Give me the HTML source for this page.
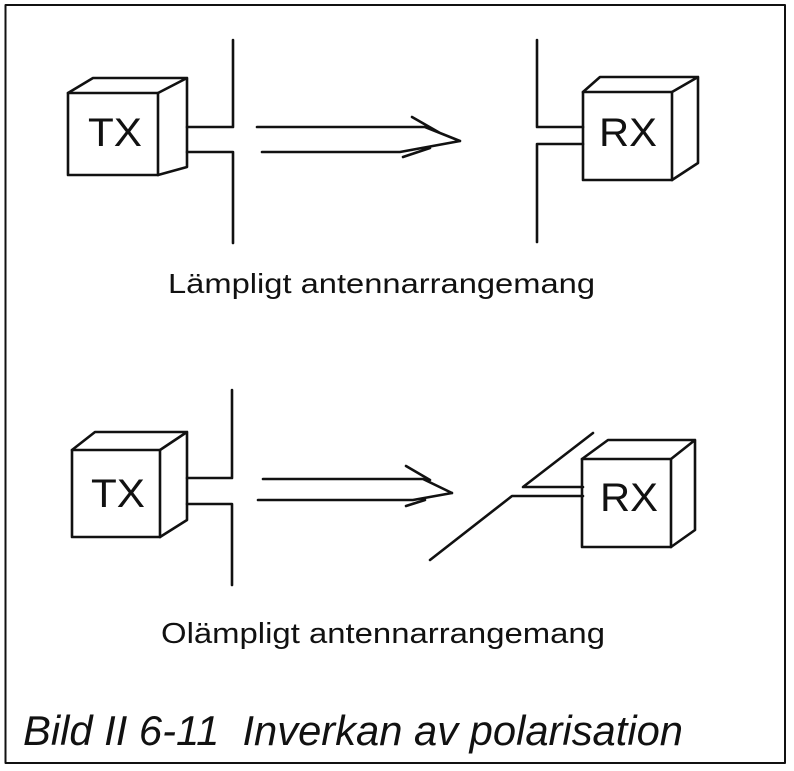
<!DOCTYPE html>
<html><head><meta charset="utf-8"><style>
html,body{margin:0;padding:0;background:#fff;}
svg{display:block;}
text{font-family:"Liberation Sans",sans-serif;fill:#111;white-space:pre;}
</style></head><body>
<svg width="794" height="771" viewBox="0 0 794 771" xmlns="http://www.w3.org/2000/svg">
<g fill="none" stroke="#111" stroke-width="2.6" stroke-linecap="round" stroke-linejoin="round">
<path d="M5.5,5 H785 V763 H5.5 Z" stroke-width="2"/>

<rect x="68" y="93" width="90" height="82"/>
<path d="M68,93 L93,78 H187 V167 L158,175 M158,93 L187,78"/>
<path d="M187,127 H233 V40 M187,152 H233 V243"/>
<path d="M257,127 H425 L460,141 M412,117 L440,133 M262,152 H400 L460,141 M403,157 L430,148"/>
<path d="M583,127 H537 V40 M583,144 H537 V242"/>
<rect x="583" y="92" width="89" height="88"/>
<path d="M583,92 L600,77 H698 V163 L672,180 M672,92 L698,77"/>

<rect x="72" y="450" width="88" height="87"/>
<path d="M72,450 L95,432 H187 V520 L160,537 M160,450 L187,432"/>
<path d="M187,478 H232 V390 M187,504 H232 V585"/>
<path d="M263,479 H423 L452,493 M406,466 L430,480 M258,500 H413 L452,493 M406,506 L425,500"/>
<path d="M583,487 H523 L593,433 M583,496 H512 L430,560"/>
<rect x="582" y="459" width="89" height="88"/>
<path d="M582,459 L608,440 H695 V530 L671,547 M671,459 L695,440"/>
</g>

<text x="115" y="146" font-size="40" text-anchor="middle" textLength="54" lengthAdjust="spacingAndGlyphs">TX</text>
<text x="628" y="146" font-size="40" text-anchor="middle" textLength="58" lengthAdjust="spacingAndGlyphs">RX</text>
<text x="118" y="507" font-size="40" text-anchor="middle" textLength="54" lengthAdjust="spacingAndGlyphs">TX</text>
<text x="629" y="511" font-size="40" text-anchor="middle" textLength="58" lengthAdjust="spacingAndGlyphs">RX</text>

<text x="168" y="293" font-size="28" textLength="427" lengthAdjust="spacingAndGlyphs">Lämpligt antennarrangemang</text>
<text x="161" y="643" font-size="29" textLength="444" lengthAdjust="spacingAndGlyphs">Olämpligt antennarrangemang</text>
<text x="23" y="745" font-size="42" font-style="italic" textLength="660" lengthAdjust="spacingAndGlyphs">Bild II 6-11  Inverkan av polarisation</text>
</svg>
</body></html>
